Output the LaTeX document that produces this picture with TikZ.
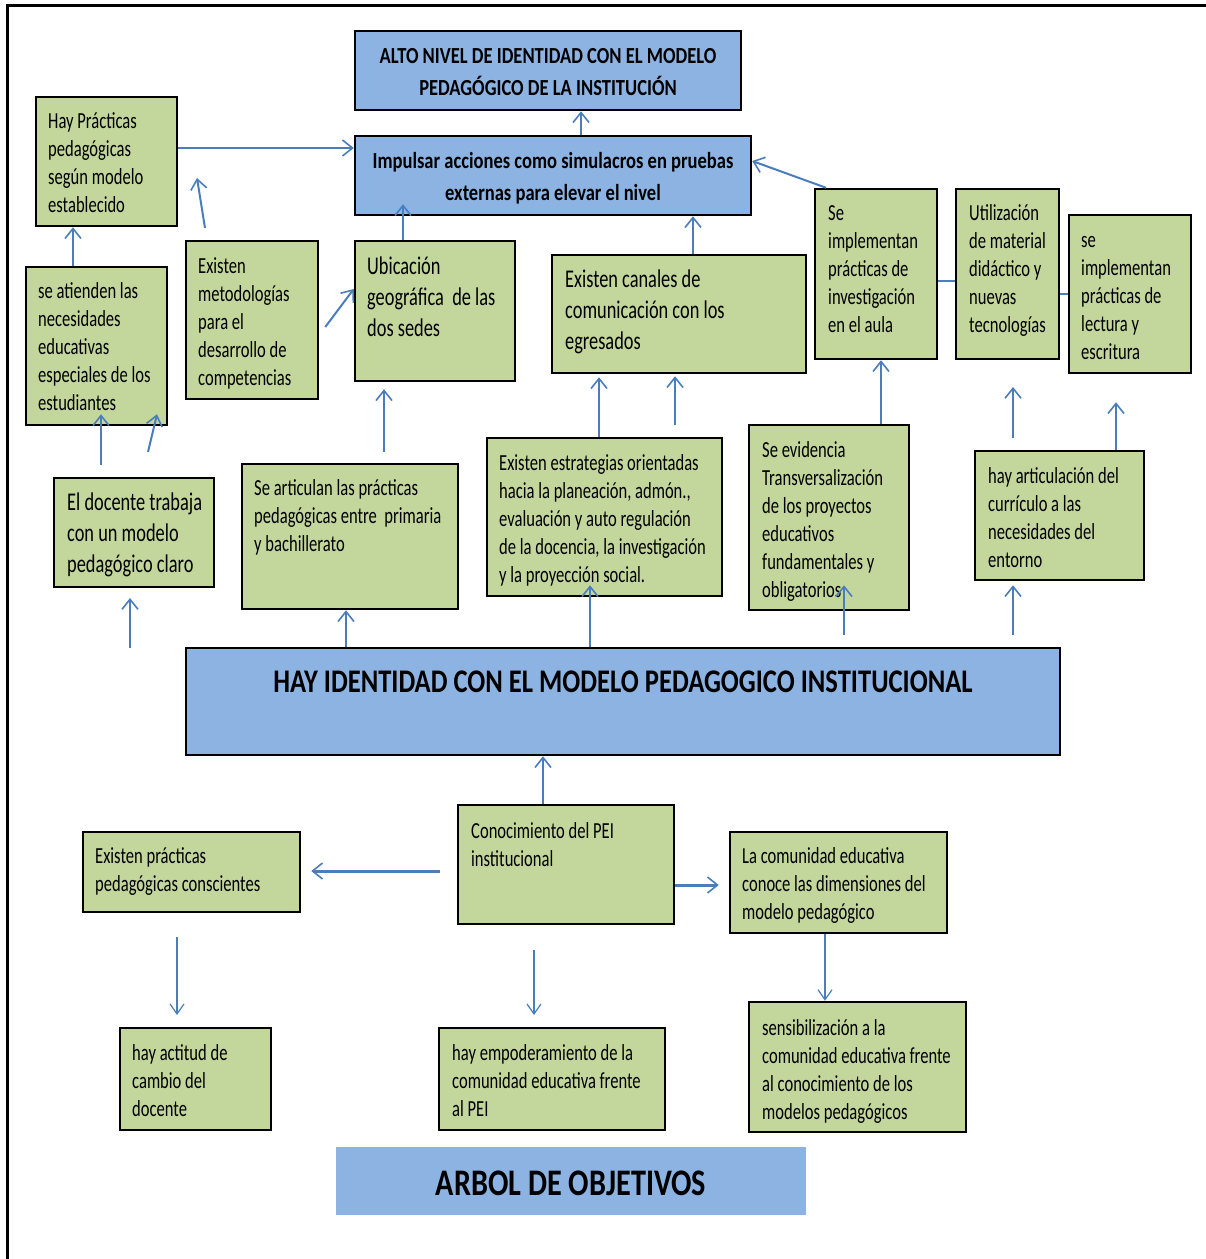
\documentclass[tikz,border=0pt]{standalone}
\usepackage{fontspec}
\setmainfont{Carlito}[FakeStretch=0.72, BoldFeatures={FakeStretch=0.806}]
\usetikzlibrary{arrows.meta,calc}
\definecolor{boxgreen}{HTML}{C3D69B}
\definecolor{boxblue}{HTML}{8DB3E2}
\definecolor{arrowblue}{HTML}{4A7EBB}
\tikzset{
  gbox/.style={draw=black, line width=2.5pt, fill=boxgreen, inner sep=0pt, rectangle},
  bbox/.style={draw=black, line width=2.5pt, fill=boxblue, inner sep=0pt, rectangle},
  tbox/.style={draw=none, fill=boxblue, inner sep=0pt, rectangle},
  arr/.style={draw=arrowblue, line width=2pt, -{Straight Barb[length=10pt,width=16pt,line width=1.6pt]}},
  thinarr/.style={draw=arrowblue, line width=1.2pt, -{Straight Barb[length=10pt,width=14pt,line width=1.2pt]}},
  link/.style={draw=arrowblue, line width=2pt},
}
\newcommand\bx[6]{\node[#6, minimum width={(#4)-(#2)}, minimum height={(#5)-(#3)}] (#1) at ({((#2)+(#4))/2},{((#3)+(#5))/2}) {};}
\newcommand\tx[6]{\node[anchor=north west, inner sep=0pt, align=left, font=\fontsize{#4}{#5}\selectfont] (#1) at (#2,{(#3)-0.7*(#5)}) {\strut #6};}
\newcommand\ctx[6]{\node[anchor=north, inner sep=0pt, align=center, font=\fontsize{#4}{#5}\selectfont\bfseries] (#1) at (#2,{(#3)-0.7*(#5)}) {\strut #6};}
\begin{document}
\begin{tikzpicture}[x=1pt,y=-1pt]
\useasboundingbox (0,0) rectangle (1206,1259);
\fill[white] (0,0) rectangle (1206,1259);
\draw[line width=3pt] (7,1259) -- (7,5) -- (1206,5);

% boxes
\bx{alto}{355}{31}{741}{110}{bbox}
\bx{imp}{355}{136}{751}{215}{bbox}
\bx{hp}{36}{97}{177}{226}{gbox}
\bx{sa}{26}{267}{167}{425}{gbox}
\bx{met}{186}{241}{318}{399}{gbox}
\bx{ubi}{355}{241}{515}{381}{gbox}
\bx{can}{552}{255}{806}{373}{gbox}
\bx{sei}{815}{189}{937}{359}{gbox}
\bx{uti}{956}{189}{1059}{359}{gbox}
\bx{sel}{1069}{215}{1191}{373}{gbox}
\bx{doc}{54}{478}{214}{587}{gbox}
\bx{art}{242}{464}{458}{609}{gbox}
\bx{est}{487}{438}{722}{596}{gbox}
\bx{evi}{749}{425}{909}{610}{gbox}
\bx{cur}{975}{451}{1144}{580}{gbox}
\bx{hay}{186}{648}{1060}{755}{bbox}
\bx{pei}{458}{805}{674}{924}{gbox}
\bx{epc}{83}{832}{300}{912}{gbox}
\bx{com}{730}{832}{947}{933}{gbox}
\bx{act}{120}{1028}{271}{1130}{gbox}
\bx{emp}{439}{1028}{665}{1130}{gbox}
\bx{sen}{749}{1002}{966}{1132}{gbox}
\bx{arb}{336}{1147}{806}{1215}{tbox}

% texts
\ctx{altot}{548}{63}{23}{32}{ALTO NIVEL DE IDENTIDAD CON EL MODELO\\PEDAGÓGICO DE LA INSTITUCIÓN}
\ctx{impt}{553}{168}{23}{32}{Impulsar acciones como simulacros en pruebas\\externas para elevar el nivel}
\tx{hpt}{48}{128}{23}{28}{Hay Prácticas\\pedagógicas\\según modelo\\establecido}
\tx{sat}{38}{298}{23}{28}{se atienden las\\necesidades\\educativas\\especiales de los\\estudiantes}
\tx{mett}{198}{273}{23}{28}{Existen\\metodologías\\para el\\desarrollo de\\competencias}
\tx{ubit}{367}{274}{25.5}{31}{Ubicación\\geográfica~ de las\\dos sedes}
\tx{cant}{565}{287}{25.5}{31}{Existen canales de\\comunicación con los\\egresados}
\tx{seit}{828}{220}{23}{28}{Se\\implementan\\prácticas de\\investigación\\en el aula}
\tx{utit}{969}{220}{23}{28}{Utilización\\de material\\didáctico y\\nuevas\\tecnologías}
\tx{selt}{1081}{247}{23}{28}{se\\implementan\\prácticas de\\lectura y\\escritura}
\tx{doct}{67}{510}{25.5}{31}{El docente trabaja\\con un modelo\\pedagógico claro}
\tx{artt}{254}{495}{23}{28}{Se articulan las prácticas\\pedagógicas entre~ primaria\\y bachillerato}
\tx{estt}{499}{470}{23}{28}{Existen estrategias orientadas\\hacia la planeación, admón.,\\evaluación y auto regulación\\de la docencia, la investigación\\y la proyección social.}
\tx{evit}{762}{457}{23}{28}{Se evidencia\\Transversalización\\de los proyectos\\educativos\\fundamentales y\\obligatorios}
\tx{curt}{988}{483}{23}{28}{hay articulación del\\currículo a las\\necesidades del\\entorno}
\ctx{hayt}{623}{692}{33}{40}{HAY IDENTIDAD CON EL MODELO PEDAGOGICO INSTITUCIONAL}
\tx{peit}{471}{838}{23}{28}{Conocimiento del PEI\\institucional}
\tx{epct}{95}{863}{23}{28}{Existen prácticas\\pedagógicas conscientes}
\tx{comt}{742}{863}{23}{28}{La comunidad educativa\\conoce las dimensiones del\\modelo pedagógico}
\tx{actt}{132}{1060}{23}{28}{hay actitud de\\cambio del\\docente}
\tx{empt}{452}{1060}{23}{28}{hay empoderamiento de la\\comunidad educativa frente\\al PEI}
\tx{sent}{762}{1035}{23}{28}{sensibilización a la\\comunidad educativa frente\\al conocimiento de los\\modelos pedagógicos}
\ctx{arbt}{571}{1195}{37.5}{44}{ARBOL DE OBJETIVOS}

% free ends
\coordinate (f1s) at (205,228); \coordinate (f1e) at (197,178);
\coordinate (f2s) at (101,465);
\coordinate (f3s) at (148,452);
\coordinate (f4s) at (130,648); \coordinate (f4e) at (130,598);
\coordinate (f5s) at (384,452);
\coordinate (f6s) at (675,425);
\coordinate (f7s) at (1013,438); \coordinate (f7e) at (1013,387);
\coordinate (f8s) at (844,635);
\coordinate (f9s) at (1013,635);
\coordinate (f10s) at (440,871);
\coordinate (f11s) at (177,937); \coordinate (f11e) at (177,1015);
\coordinate (f12s) at (534,950); \coordinate (f12e) at (534,1015);

% connectors
\draw[arr] (imp.north -| 581,0) -- (alto.south -| 581,0);
\draw[arr] (hp.east |- 0,148) -- (imp.west |- 0,148);
\draw[arr] (f1s) -- (f1e);
\draw[arr] (ubi.north -| 403,0) -- ($(imp.south -| 403,0)+(0,-12)$);
\draw[arr] ($(met.east |- 0,327)+(6,0)$) -- (ubi.west |- 0,289);
\draw[arr] (sa.north -| 73,0) -- (hp.south -| 73,0);
\draw[arr] (f2s) -- ($(sa.south -| 101,0)+(0,-12)$);
\draw[arr] (f3s) -- ($(sa.south -| 157,0)+(0,-12)$);
\draw[arr] (f4s) -- (f4e);
\draw[arr] (f5s) -- ($(ubi.south -| 384,0)+(0,7)$);
\draw[arr] (hay.north -| 346,0) -- (art.south -| 346,0);
\draw[arr] (hay.north -| 590,0) -- ($(est.south -| 590,0)+(0,-12)$);
\draw[arr] (est.north -| 599,0) -- ($(can.south -| 599,0)+(0,3)$);
\draw[arr] (f6s) -- ($(can.south -| 675,0)+(0,2)$);
\draw[arr] (can.north -| 693,0) -- (imp.south -| 693,0);
\draw[arr] (sei.north west -| 826,0) -- (imp.east |- 0,161);
\draw[arr] (evi.north -| 881,0) -- (sei.south -| 881,0);
\draw[link] (sei.east |- 0,281) -- (uti.west |- 0,281);
\draw[link] (uti.east |- 0,294) -- (sel.west |- 0,294);
\draw[arr] (f7s) -- (f7e);
\draw[arr] (cur.north -| 1116,0) -- ($(sel.south -| 1116,0)+(0,28)$);
\draw[arr] (f8s) -- ($(evi.south -| 844,0)+(0,-26)$);
\draw[arr] (f9s) -- ($(cur.south -| 1013,0)+(0,4)$);
\draw[arr] (pei.north -| 543,0) -- (hay.south -| 543,0);
\draw[arr, line width=3pt] (f10s) -- ($(epc.east |- 0,871)+(10,0)$);
\draw[arr, line width=3pt] (pei.east |- 0,885) -- ($(com.west |- 0,885)+(-10,0)$);
\draw[thinarr] (f11s) -- (f11e);
\draw[thinarr] (f12s) -- (f12e);
\draw[thinarr] (com.south -| 825,0) -- (sen.north -| 825,0);
\end{tikzpicture}
\end{document}
